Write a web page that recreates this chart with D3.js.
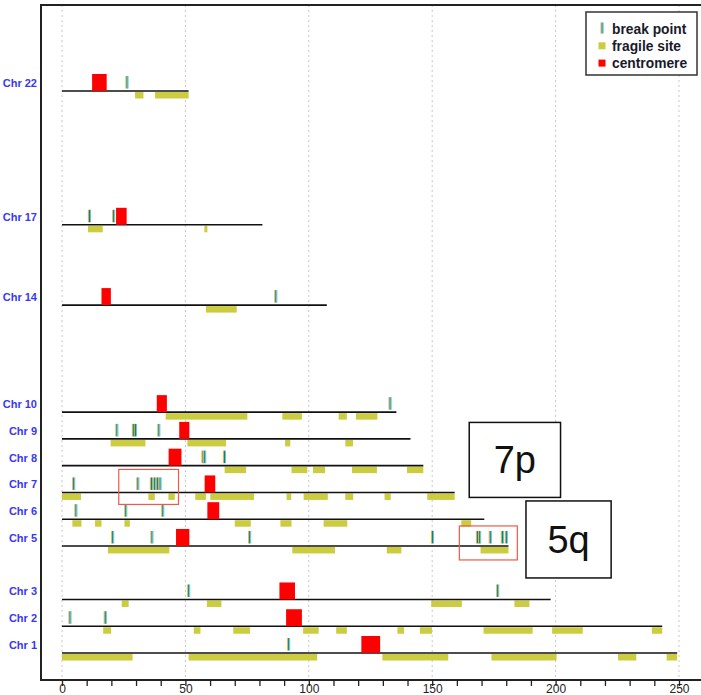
<!DOCTYPE html>
<html><head><meta charset="utf-8">
<script src="https://cdn.jsdelivr.net/npm/d3@7"></script>
<style>body{margin:0;background:#fff}svg{display:block}</style>
</head><body>
<script>
// ---- data (Mb, hg19) ----
const chromosomes = [1, 2, 3, 5, 6, 7, 8, 9, 10, 14, 17, 22];
const chrLengths = {1:249.25, 2:243.2, 3:198.0, 5:180.9, 6:171.1, 7:159.1, 8:146.4, 9:141.2, 10:135.5, 14:107.3, 17:81.2, 22:51.3};
const centromeres = {1:[121.3,128.9], 2:[90.8,97.2], 3:[88.1,94.4], 5:[46.2,51.6], 6:[58.9,63.7], 7:[57.8,62.1], 8:[43.2,48.4], 9:[47.5,51.6], 10:[38.4,42.5], 14:[16.0,19.8], 17:[21.9,26.2], 22:[12.2,18.1]};
const breakPoints = {
  1:[91.8], 2:[3.2,17.5], 3:[51.3,176.5],
  5:[20.5,36.4,76.0,150.1,168.3,169.2,173.5,178.4,180.0],
  6:[5.6,25.8,40.8], 7:[4.7,30.7,36.2,37.5,38.6,39.7],
  8:[57.1,57.8,65.8], 9:[22.2,28.9,29.7,39.2], 10:[132.9],
  14:[86.6], 17:[11.1,20.9], 22:[26.3]
};
const fragileSites = {
  1:[[0,28.6],[51.3,103.4],[129.8,156.5],[174,200.4],[225.3,232.7],[245,249.25]],
  2:[[16.7,19.9],[53.4,56.1],[69.4,76.2],[97.7,104],[111.1,115.4],[135.9,138.6],[145,149.9],[170.8,190.7],[198.6,211],[239,243.2]],
  3:[[24.2,27],[58.7,64.6],[149.6,162],[183.3,189.4]],
  5:[[18.6,43.5],[93.3,110.6],[131.6,137.5],[169.6,180.9]],
  6:[[4.2,7.9],[13.4,16],[25.3,27.5],[70,76.5],[88.5,93],[106,115.6],[161.8,165.8]],
  7:[[0,7.7],[35,37.6],[43.1,45.7],[54,58.3],[60.1,77.8],[91,92.9],[97.9,107.7],[114.8,118],[130.7,133.2],[148,159.1]],
  8:[[65.9,74.6],[93,99.4],[101.7,106.6],[117.5,127.6],[139.8,146.4]],
  9:[[19.7,33.8],[50.8,66.5],[90.4,92.5],[114.8,117.9]],
  10:[[42,75.1],[89.3,97.2],[112.1,115.4],[119.1,127.8]],
  14:[[58.3,70.8]],
  17:[[10.5,16.5],[57.7,58.9]],
  22:[[29.6,33],[37.7,51.3]]
};
const xTicks = [0, 50, 100, 150, 200, 250];
const xMinorTicks = d3.range(0, 251, 10);
const legendItems = ["break point", "fragile site", "centromere"];
const highlights = [{chr:7, from:23, to:47.2, label:"7p", boxFrom:165, boxTo:202}, {chr:5, from:161, to:184.5, label:"5q", boxFrom:188, boxTo:222.5}];

// ---- drawing ----
const W = 701, H = 695;
const FONT = "Liberation Sans, Arial, Helvetica, sans-serif";
const svg = d3.select("body").append("svg").attr("width", W).attr("height", H);
const x = d3.scaleLinear().domain([0, 250]).range([62, 679]);
const y = d3.scaleLinear().domain([1, 22]).range([653, 91]);
const frame = {left: 41, top: 5, bottom: 680, right: 703};
const FRAG = "#cccc40", RED = "#ff0000";

// grid
svg.append("g").selectAll("line").data(xTicks).join("line")
  .attr("x1", d => x(d)).attr("x2", d => x(d))
  .attr("y1", frame.top).attr("y2", frame.bottom)
  .attr("stroke", "#c8c8c8").attr("stroke-width", 1).attr("stroke-dasharray", "2,3");

// frame
svg.append("rect").attr("x", frame.left).attr("y", frame.top)
  .attr("width", frame.right - frame.left).attr("height", frame.bottom - frame.top)
  .attr("fill", "none").attr("stroke", "#222").attr("stroke-width", 2);

// axis
const axis = d3.axisBottom(x).tickValues(xMinorTicks).tickSize(6).tickPadding(0)
  .tickFormat(d => xTicks.includes(d) ? d : "");
const ag = svg.append("g").attr("transform", `translate(0,${frame.bottom})`).call(axis);
ag.select(".domain").remove();
ag.selectAll(".tick line").attr("stroke", "#222").attr("stroke-width", 1.3);
ag.selectAll(".tick text").attr("font-family", FONT).attr("y", 4)
  .attr("font-size", 12).attr("fill", "#222");

const rows = svg.append("g");
chromosomes.forEach(c => {
  const yc = y(c);
  // fragile sites
  rows.append("g").selectAll("rect").data(fragileSites[c]).join("rect")
    .attr("x", d => x(d[0])).attr("width", d => x(d[1]) - x(d[0]))
    .attr("y", yc + 1).attr("height", 6.5).attr("fill", FRAG);
  // chromosome line
  rows.append("line").attr("x1", x(0)).attr("x2", x(chrLengths[c]))
    .attr("y1", yc).attr("y2", yc).attr("stroke", "#111").attr("stroke-width", 1.6);
  // centromere
  const cm = centromeres[c];
  rows.append("rect").attr("x", x(cm[0])).attr("width", x(cm[1]) - x(cm[0]))
    .attr("y", yc - 17).attr("height", 17).attr("fill", RED);
  // break points
  const bg = rows.append("g").selectAll("g").data(breakPoints[c]).join("g")
    .attr("transform", d => `translate(${x(d)},${yc - 15})`);
  bg.append("rect").attr("x", -1.5).attr("width", 1).attr("height", 12.5).attr("fill", "#e8b446");
  bg.append("rect").attr("x", -0.5).attr("width", 1.2).attr("height", 12.5).attr("fill", "#1f7a70");
  bg.append("rect").attr("x", 0.7).attr("width", 0.9).attr("height", 12.5).attr("fill", "#4cc4d8");
  // label
  rows.append("text").attr("x", 37).attr("y", yc - 8).attr("dy", "0.35em")
    .attr("text-anchor", "end").attr("font-family", FONT).attr("font-weight", "bold")
    .attr("font-size", 11).attr("fill", "#3838f0").text("Chr " + c);
});

// legend
const lg = svg.append("g");
lg.append("rect").attr("x", 586).attr("y", 12).attr("width", 111).attr("height", 63)
  .attr("fill", "#fff").attr("stroke", "#333").attr("stroke-width", 1.5);
legendItems.forEach((t, i) => {
  const cy = 29 + i * 17.3;
  if (i === 0) {
    lg.append("rect").attr("x", 600.5).attr("y", cy - 6.5).attr("width", 1).attr("height", 11).attr("fill", "#e8b446");
    lg.append("rect").attr("x", 601.5).attr("y", cy - 6.5).attr("width", 1.2).attr("height", 11).attr("fill", "#1f7a70");
    lg.append("rect").attr("x", 602.7).attr("y", cy - 6.5).attr("width", 0.9).attr("height", 11).attr("fill", "#4cc4d8");
  } else {
    lg.append("rect").attr("x", 598.5).attr("y", cy - 4).attr("width", 7).attr("height", 7)
      .attr("fill", i === 1 ? FRAG : RED);
  }
  lg.append("text").attr("x", 612).attr("y", cy).attr("dy", "0.35em")
    .attr("font-family", FONT).attr("font-size", 13.8).attr("font-weight", "bold")
    .attr("fill", "#1a1a2a").text(t);
});

// highlights and labelled boxes
const hl = svg.append("g");
highlights.forEach((h, i) => {
  const yc = y(h.chr);
  const top = i === 0 ? yc - 23 : yc - 20, bot = i === 0 ? yc + 12 : yc + 14;
  hl.append("rect").attr("x", x(h.from)).attr("y", top)
    .attr("width", x(h.to) - x(h.from)).attr("height", bot - top)
    .attr("fill", "none").attr("stroke", "#ee5a48").attr("stroke-width", 1.2);
  const bTop = i === 0 ? yc - 70 : yc - 45, bBot = i === 0 ? yc + 5 : yc + 32;
  hl.append("rect").attr("x", x(h.boxFrom)).attr("y", bTop)
    .attr("width", x(h.boxTo) - x(h.boxFrom)).attr("height", bBot - bTop)
    .attr("fill", "#fff").attr("stroke", "#111").attr("stroke-width", 1.5);
  hl.append("text").attr("x", (x(h.boxFrom) + x(h.boxTo)) / 2).attr("y", (bTop + bBot) / 2)
    .attr("dy", "0.35em").attr("text-anchor", "middle")
    .attr("font-family", FONT).attr("font-size", 38)
    .attr("fill", "#111").text(h.label);
});
</script>
</body></html>
